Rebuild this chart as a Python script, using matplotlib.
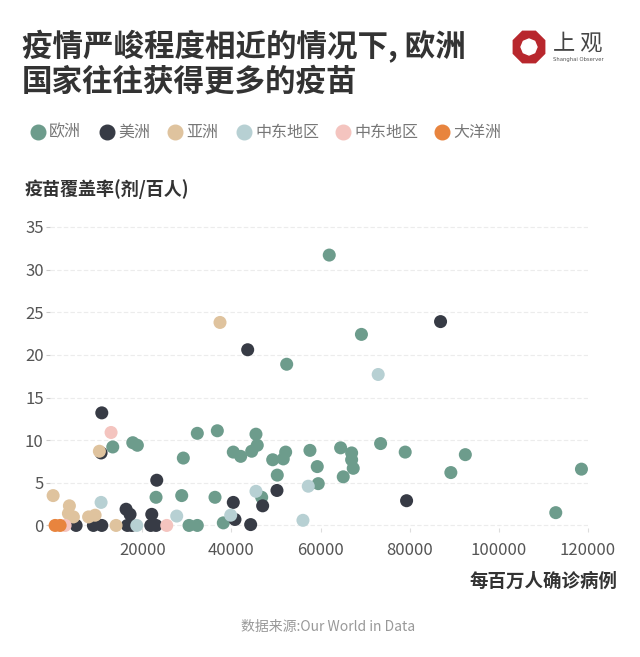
import matplotlib.pyplot as plt
import numpy as np
from matplotlib.lines import Line2D
from matplotlib.patches import RegularPolygon

plt.rcParams['font.family'] = ['Noto Sans CJK SC', 'DejaVu Sans']

# Data: confirmed cases per million (x) vs vaccine doses per hundred (y)
eu_x = [61950, 69170, 52400, 13380, 17870, 18900, 29210, 32350, 36840, 40420,
        42080, 45510, 45800, 44550, 49260, 51630, 52170, 57620, 59260, 59480,
        50290, 64500, 66970, 66970, 67330, 65090, 73470, 78990, 92480, 89230,
        118530, 112770, 23090, 28850, 36320, 30490, 32350, 38180, 46790]
eu_y = [31.7, 22.4, 18.9, 9.2, 9.7, 9.4, 7.9, 10.8, 11.1, 8.6,
        8.1, 10.7, 9.4, 8.7, 7.7, 7.8, 8.6, 8.8, 6.9, 4.9,
        5.9, 9.1, 8.5, 7.7, 6.7, 5.7, 9.6, 8.6, 8.3, 6.2,
        6.6, 1.5, 3.3, 3.5, 3.3, 0.0, 0.0, 0.3, 3.3]

am_x = [10920, 10760, 43650, 86920, 79300, 23250, 16370, 17260, 22130, 5160,
        9040, 10920, 16660, 17640, 21900, 23090, 40420, 40800, 44320, 47010, 50220]
am_y = [13.2, 8.5, 20.6, 23.9, 2.9, 5.3, 1.9, 1.3, 1.3, 0.0,
        0.0, 0.0, 0.0, 0.0, 0.0, 0.0, 2.7, 0.7, 0.1, 2.3, 4.1]

as_x = [37440, 10380, 0, 3650, 3430, 4550, 7960, 9420, 14120]
as_y = [23.8, 8.7, 3.5, 2.3, 1.4, 1.0, 1.0, 1.2, 0.0]

me_x = [10760, 18770, 27730, 39840, 45510, 56050, 57240, 72930]
me_y = [2.7, 0.0, 1.1, 1.2, 4.0, 0.6, 4.6, 17.7]

me2_x = [13000, 2690, 25490]
me2_y = [10.9, 0.0, 0.0]

oc_x = [450, 1570]
oc_y = [0.0, 0.0]

groups = ['欧洲', '美洲', '亚洲', '中东地区', '中东地区', '大洋洲']
colors = ['#6d9c8c', '#373b45', '#dfc39e', '#b7d0d3', '#f4c4bf', '#e8843e']
series = [(eu_x, eu_y), (am_x, am_y), (as_x, as_y),
          (me_x, me_y), (me2_x, me2_y), (oc_x, oc_y)]

fig = plt.figure(figsize=(6.4, 6.57), dpi=100)
W, H = 640, 657

# title
fig.text(22 / W, 1 - 47 / H, '疫情严峻程度相近的情况下, 欧洲', fontsize=22,
         fontweight='bold', color='#333333', va='center', ha='left')
fig.text(22 / W, 1 - 82 / H, '国家往往获得更多的疫苗', fontsize=22,
         fontweight='bold', color='#333333', va='center', ha='left')

# logo
fig.add_artist(RegularPolygon((5.29, (H - 47) / 100), numVertices=8, radius=0.17,
                              orientation=np.pi / 8, color='#b8272d',
                              transform=fig.dpi_scale_trans))
fig.add_artist(RegularPolygon((5.29, (H - 47) / 100), numVertices=8, radius=0.08,
                              orientation=0, color='white',
                              transform=fig.dpi_scale_trans))
fig.text(578 / W, 1 - 43 / H, '上 观', fontsize=16, color='#444444',
         va='center', ha='center')
fig.text(578 / W, 1 - 59 / H, 'Shanghai Observer', fontsize=3.8,
         color='#555555', va='center', ha='center', family='DejaVu Sans')

# legend
leg_x = [38, 107, 175, 244, 343, 442]
for px, name, c in zip(leg_x, groups, colors):
    fig.add_artist(Line2D([px / W], [1 - 132 / H], marker='o', markersize=10.5,
                          color=c, linestyle='none', transform=fig.transFigure))
    fig.text((px + 11) / W, 1 - 132 / H, name, fontsize=11.5, color='#777777',
             va='center', ha='left')

# axes
ax = fig.add_axes([50 / W, 1 - 528 / H, 538 / W, (528 - 218.4) / H])
for (xs, ys), c in zip(series, colors):
    ax.scatter(xs, ys, s=88, color=c, edgecolors='none', clip_on=False, zorder=3)

ax.set_xlim(-700, 120000)
ax.set_ylim(-0.3, 36)
ax.set_yticks(np.arange(0, 36, 5))
ax.set_xticks(np.arange(20000, 120001, 20000))
ax.set_xticklabels([str(v) for v in range(20000, 120001, 20000)])
ax.tick_params(axis='y', length=3, width=0.8, color='#cccccc', pad=1.5,
               labelsize=12, labelcolor='#555555')
ax.tick_params(axis='x', length=3, width=0.8, color='#dddddd', pad=7,
               labelsize=12, labelcolor='#555555')
ax.grid(axis='y', color='#ececec', linewidth=0.8, linestyle=(0, (4, 2)))
ax.set_axisbelow(True)
for s in ax.spines.values():
    s.set_visible(False)

# axis titles
fig.text(25 / W, 1 - 189 / H, '疫苗覆盖率(剂/百人)', fontsize=13,
         fontweight='bold', color='#333333', va='center', ha='left')
fig.text(617 / W, 1 - 581 / H, '每百万人确诊病例', fontsize=13.3,
         fontweight='bold', color='#333333', va='center', ha='right')

fig.text(328 / W, 1 - 627 / H, '数据来源:Our World in Data', fontsize=10,
         color='#999999', va='center', ha='center')

fig.savefig('out.png', dpi=100, facecolor='white')
